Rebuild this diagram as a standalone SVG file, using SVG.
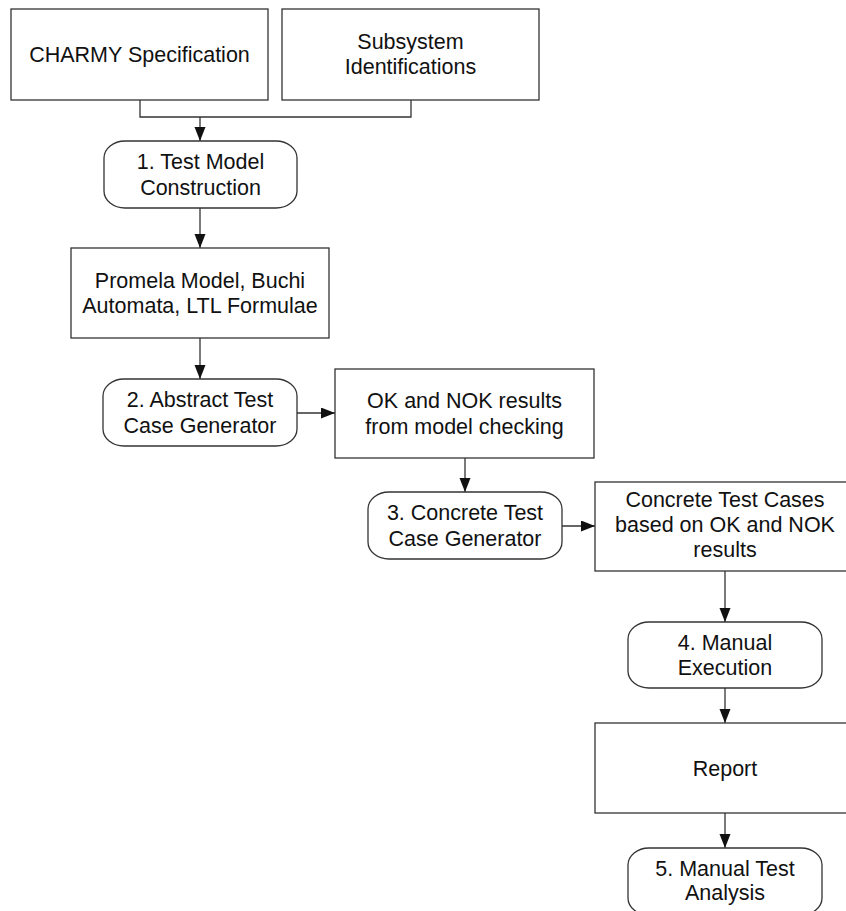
<svg xmlns="http://www.w3.org/2000/svg" width="846" height="911" viewBox="0 0 846 911">
  <style>
    .box { fill: #ffffff; stroke: #333333; stroke-width: 1.3; }
    .txt { font-family: "Liberation Sans", Arial, sans-serif; font-size: 21.5px; fill: #111111; text-anchor: middle; }
    .edge { fill: none; stroke: #333333; stroke-width: 1.3; }
  </style>
  <defs>
    <marker id="arrow" markerUnits="userSpaceOnUse" markerWidth="16" markerHeight="12" refX="14" refY="5.5" orient="auto">
      <path d="M0,0 L14,5.5 L0,11 Z" fill="#111111"/>
    </marker>
  </defs>
  <rect width="846" height="911" fill="#ffffff"/>

  <!-- connectors -->
  <g id="connectors">
    <path class="edge" d="M140,100 V117 H411 V100"/>
    <path class="edge" d="M200,117 V141" marker-end="url(#arrow)"/>
    <path class="edge" d="M200,208 V248" marker-end="url(#arrow)"/>
    <path class="edge" d="M200,338 V379" marker-end="url(#arrow)"/>
    <path class="edge" d="M297,413 H335" marker-end="url(#arrow)"/>
    <path class="edge" d="M465,458 V492" marker-end="url(#arrow)"/>
    <path class="edge" d="M562,526 H595" marker-end="url(#arrow)"/>
    <path class="edge" d="M725,571 V622" marker-end="url(#arrow)"/>
    <path class="edge" d="M725,688 V723" marker-end="url(#arrow)"/>
    <path class="edge" d="M725,813 V848" marker-end="url(#arrow)"/>
  </g>

  <!-- inputs -->
  <g id="charmy-spec">
    <rect class="box" x="11" y="9" width="257" height="91"/>
    <text class="txt" x="139.5" y="62">CHARMY Specification</text>
  </g>
  <g id="subsystem-ids">
    <rect class="box" x="282" y="9" width="257" height="91"/>
    <text class="txt" x="410.5" y="49">Subsystem</text>
    <text class="txt" x="410.5" y="74">Identifications</text>
  </g>

  <!-- step 1 -->
  <g id="step1">
    <rect class="box" x="104" y="141" width="193" height="67" rx="21" ry="17"/>
    <text class="txt" x="200.5" y="169">1. Test Model</text>
    <text class="txt" x="200.5" y="195">Construction</text>
  </g>
  <g id="promela-model">
    <rect class="box" x="71" y="248" width="258" height="90"/>
    <text class="txt" x="200" y="288">Promela Model, Buchi</text>
    <text class="txt" x="200" y="313">Automata, LTL Formulae</text>
  </g>

  <!-- step 2 -->
  <g id="step2">
    <rect class="box" x="103" y="379" width="194" height="67" rx="21" ry="17"/>
    <text class="txt" x="200" y="407">2. Abstract Test</text>
    <text class="txt" x="200" y="433">Case Generator</text>
  </g>
  <g id="ok-nok-results">
    <rect class="box" x="335" y="369" width="259" height="89"/>
    <text class="txt" x="464.5" y="408">OK and NOK results</text>
    <text class="txt" x="464.5" y="434">from model checking</text>
  </g>

  <!-- step 3 -->
  <g id="step3">
    <rect class="box" x="368" y="492" width="194" height="67" rx="21" ry="17"/>
    <text class="txt" x="465" y="520">3. Concrete Test</text>
    <text class="txt" x="465" y="546">Case Generator</text>
  </g>
  <g id="concrete-cases">
    <rect class="box" x="595" y="482" width="262" height="89"/>
    <text class="txt" x="725" y="507">Concrete Test Cases</text>
    <text class="txt" x="725" y="532">based on OK and NOK</text>
    <text class="txt" x="725" y="557">results</text>
  </g>

  <!-- step 4 -->
  <g id="step4">
    <rect class="box" x="628" y="622" width="194" height="66" rx="21" ry="17"/>
    <text class="txt" x="725" y="650">4. Manual</text>
    <text class="txt" x="725" y="675">Execution</text>
  </g>
  <g id="report">
    <rect class="box" x="595" y="723" width="262" height="90"/>
    <text class="txt" x="725" y="776">Report</text>
  </g>

  <!-- step 5 -->
  <g id="step5">
    <rect class="box" x="628" y="848" width="194" height="67" rx="21" ry="17"/>
    <text class="txt" x="725" y="876">5. Manual Test</text>
    <text class="txt" x="725" y="900">Analysis</text>
  </g>
</svg>
